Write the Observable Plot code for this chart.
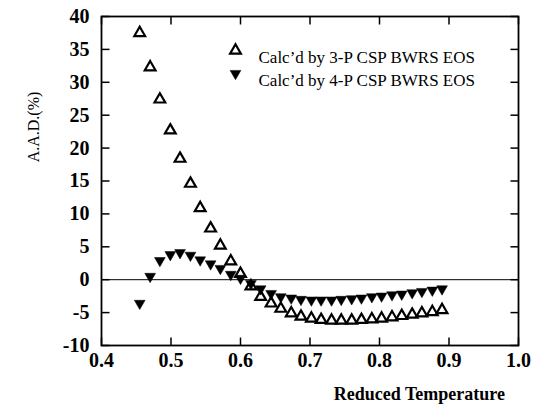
<!DOCTYPE html>
<html>
<head>
<meta charset="utf-8">
<script src="https://cdn.jsdelivr.net/npm/d3@7"></script>
<script src="https://cdn.jsdelivr.net/npm/@observablehq/plot@0.6"></script>
<style>
  html, body { margin: 0; padding: 0; background: white; }
  #chart svg { display: block; }
</style>
</head>
<body>
<div id="chart"></div>
<script>
// Reduced temperature values (shared by both series)
const tr = [0.455, 0.470, 0.484, 0.499, 0.513, 0.528, 0.542, 0.557, 0.571, 0.586, 0.600,
            0.615, 0.629, 0.644, 0.658, 0.673, 0.687, 0.702, 0.716, 0.731, 0.745, 0.760,
            0.774, 0.789, 0.803, 0.818, 0.832, 0.847, 0.861, 0.876, 0.890];
// A.A.D. (%) — 3-parameter CSP BWRS EOS
const aad3P = [37.5, 32.3, 27.4, 22.7, 18.4, 14.6, 10.9, 7.8, 5.2, 2.8, 0.9,
               -1.0, -2.6, -3.6, -4.4, -5.1, -5.6, -5.9, -6.1, -6.2, -6.2, -6.2,
               -6.1, -6.0, -5.9, -5.7, -5.5, -5.3, -5.1, -4.9, -4.6];
// A.A.D. (%) — 4-parameter CSP BWRS EOS
const aad4P = [-3.6, 0.5, 2.9, 3.8, 4.1, 3.7, 3.0, 2.4, 1.7, 0.8, 0.2,
               -0.6, -1.4, -2.1, -2.6, -2.8, -3.0, -3.1, -3.1, -3.1, -3.0, -2.9,
               -2.8, -2.6, -2.5, -2.3, -2.2, -2.0, -1.8, -1.6, -1.4];
const seriesNames = ["Calc\u2019d by 3-P CSP BWRS EOS", "Calc\u2019d by 4-P CSP BWRS EOS"];
const xTicks = [0.4, 0.5, 0.6, 0.7, 0.8, 0.9, 1.0];
const yTicks = [-10, -5, 0, 5, 10, 15, 20, 25, 30, 35, 40];
const xTickLabels = ["0.4", "0.5", "0.6", "0.7", "0.8", "0.9", "1.0"];
const yTickLabels = ["-10", "-5", "0", "5", "10", "15", "20", "25", "30", "35", "40"];
const xLabel = "Reduced Temperature";
const yLabel = "A.A.D.(%)";

const data3 = tr.map((t, i) => ({tr: t, aad: aad3P[i]}));
const data4 = tr.map((t, i) => ({tr: t, aad: aad4P[i]}));
const xTickData = xTicks.map((v, i) => ({v, label: xTickLabels[i]}));
const yTickData = yTicks.map((v, i) => ({v, label: yTickLabels[i]}));

const SERIF = "Liberation Serif";

// custom symbols
const triangleDown = {
  draw(ctx, size) {
    const s = Math.sqrt(size * 4 / Math.sqrt(3));
    const h = s * Math.sqrt(3) / 2;
    ctx.moveTo(-s / 2, -h / 3);
    ctx.lineTo(s / 2, -h / 3);
    ctx.lineTo(0, 2 * h / 3);
    ctx.closePath();
  }
};
const T = 8;
const tickUp = {draw(ctx) { ctx.moveTo(0, 0); ctx.lineTo(0, -T); }};
const tickDown = {draw(ctx) { ctx.moveTo(0, 0); ctx.lineTo(0, T); }};
const tickRight = {draw(ctx) { ctx.moveTo(0, 0); ctx.lineTo(T, 0); }};
const tickLeft = {draw(ctx) { ctx.moveTo(0, 0); ctx.lineTo(-T, 0); }};

const chart = Plot.plot({
  width: 539,
  height: 405,
  marginLeft: 101,
  marginRight: 21,
  marginTop: 16,
  marginBottom: 60,
  style: {background: "white", color: "black", fontFamily: SERIF},
  x: {domain: [0.4, 1.0], axis: null},
  y: {domain: [-10, 40], axis: null},
  marks: [
    Plot.ruleY([0], {stroke: "black", strokeWidth: 1}),
    // inward ticks
    Plot.dot(xTicks, {x: d => d, frameAnchor: "bottom", symbol: tickUp, fill: "none", stroke: "black", strokeWidth: 1.5}),
    Plot.dot(xTicks, {x: d => d, frameAnchor: "top", symbol: tickDown, fill: "none", stroke: "black", strokeWidth: 1.5}),
    Plot.dot(yTicks, {y: d => d, frameAnchor: "left", symbol: tickRight, fill: "none", stroke: "black", strokeWidth: 1.5}),
    Plot.dot(yTicks, {y: d => d, frameAnchor: "right", symbol: tickLeft, fill: "none", stroke: "black", strokeWidth: 1.5}),
    // tick labels
    Plot.text(xTickData, {x: "v", text: "label", frameAnchor: "bottom", lineAnchor: "top", dy: 7, fontSize: 20, fontWeight: "bold", fontFamily: SERIF}),
    Plot.text(yTickData, {y: "v", text: "label", frameAnchor: "left", textAnchor: "end", dx: -12, fontSize: 20, fontWeight: "bold", fontFamily: SERIF}),
    Plot.frame({stroke: "black", strokeWidth: 1.8}),
    // data
    Plot.dot(data3, {x: "tr", y: "aad", symbol: "triangle", r: 4, fill: "none", stroke: "black", strokeWidth: 2.2}),
    Plot.dot(data4, {x: "tr", y: "aad", symbol: triangleDown, r: 4, fill: "black", stroke: "black", strokeWidth: 0.5}),
    // legend
    Plot.dot([seriesNames[0]], {frameAnchor: "top-left", dx: 134, dy: 34, symbol: "triangle", r: 4, fill: "none", stroke: "black", strokeWidth: 2.2}),
    Plot.dot([seriesNames[1]], {frameAnchor: "top-left", dx: 134, dy: 57, symbol: triangleDown, r: 4, fill: "black", stroke: "black", strokeWidth: 0.5}),
    Plot.text([seriesNames[0]], {text: d => d, frameAnchor: "top-left", dx: 157, dy: 34, textAnchor: "start", fontSize: 17}),
    Plot.text([seriesNames[1]], {text: d => d, frameAnchor: "top-left", dx: 157, dy: 57, textAnchor: "start", fontSize: 17})
  ]
});

const svg = d3.select(chart);
// axis titles
svg.append("text")
  .attr("x", 505).attr("y", 400)
  .attr("text-anchor", "end")
  .style("font-family", SERIF)
  .style("font-size", "18px").style("font-weight", "bold")
  .attr("fill", "black")
  .text(xLabel);
svg.append("text")
  .attr("transform", "translate(39,127) rotate(-90)")
  .attr("text-anchor", "middle")
  .style("font-family", SERIF)
  .style("font-size", "16px")
  .attr("fill", "black")
  .text(yLabel);

document.getElementById("chart").appendChild(chart);
</script>
</body>
</html>
